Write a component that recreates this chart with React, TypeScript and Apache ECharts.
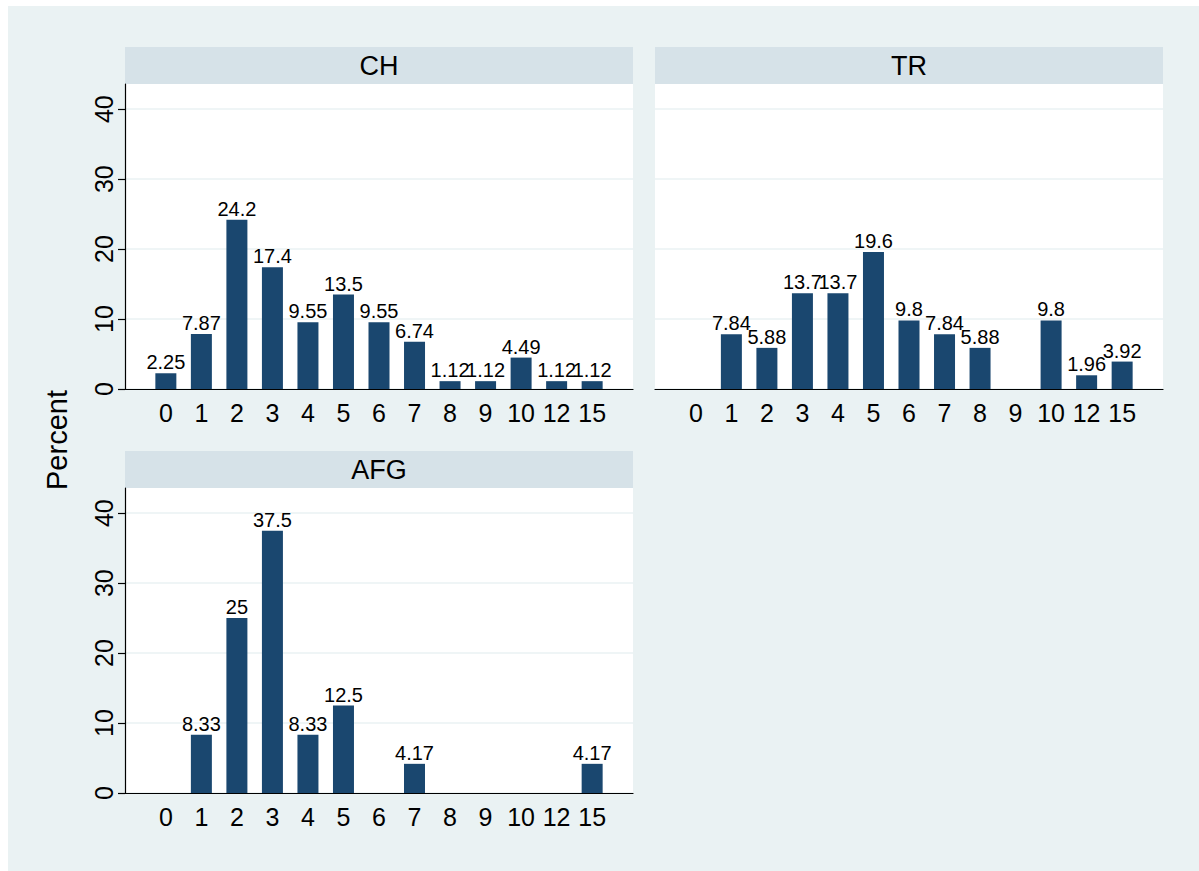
import React, { useEffect, useRef } from "react";
import * as echarts from "echarts";

const categories = ["0", "1", "2", "3", "4", "5", "6", "7", "8", "9", "10", "12", "15"];
const panelNames = ["CH", "TR", "AFG"];
const chValues = [2.25, 7.87, 24.2, 17.4, 9.55, 13.5, 9.55, 6.74, 1.12, 1.12, 4.49, 1.12, 1.12];
const trValues = [null, 7.84, 5.88, 13.7, 13.7, 19.6, 9.8, 7.84, 5.88, null, 9.8, 1.96, 3.92];
const afgValues = [null, 8.33, 25, 37.5, 8.33, 12.5, null, 4.17, null, null, null, null, 4.17];
const yTicks = [0, 10, 20, 30, 40];
const yTitle = "Percent";

const FONT = "'Liberation Sans', Arial, sans-serif";
const BG = "#EAF2F3";
const STRIP = "#D6E2E8";
const BAR = "#1A476F";

const grids = [
  { left: 117, top: 78, width: 508, height: 305 },
  { left: 647, top: 78, width: 508, height: 305 },
  { left: 117, top: 482, width: 508, height: 305 },
];

export default function App() {
  const ref = useRef<HTMLDivElement>(null);
  useEffect(() => {
    if (!ref.current) return;
    const chart = echarts.init(ref.current, null, { renderer: "svg" });
    const allValues = [chValues, trValues, afgValues];
    const idx = categories.map((_, i) => i);

    const option: any = {
      animation: false,
      backgroundColor: BG,
      grid: grids.map((g) => ({
        ...g,
        show: true,
        backgroundColor: "#FFFFFF",
        borderWidth: 0,
        containLabel: false,
      })),
      xAxis: grids.map((_, gi) => ({
        type: "value",
        gridIndex: gi,
        min: -1.15,
        max: 13.15,
        axisLine: { show: true, onZero: false, lineStyle: { color: "#000", width: 1.2 } },
        axisTick: { show: false },
        splitLine: { show: false },
        axisLabel: {
          customValues: idx,
          formatter: (v: number) => categories[Math.round(v)] ?? "",
          color: "#000",
          fontSize: 25,
          fontFamily: FONT,
          margin: 11,
        },
      })),
      yAxis: grids.map((_, gi) => ({
        type: "value",
        gridIndex: gi,
        min: 0,
        max: 43.6,
        axisLine: { show: gi !== 1, onZero: false, lineStyle: { color: "#000", width: 1.2 } },
        axisTick: {
          show: gi !== 1,
          customValues: yTicks,
          length: 7,
          lineStyle: { color: "#000", width: 1.2 },
        },
        axisLabel: {
          show: gi !== 1,
          customValues: yTicks,
          rotate: 90,
          color: "#000",
          fontSize: 25,
          fontFamily: FONT,
          margin: 9,
        },
        splitLine: {
          show: true,
          customValues: yTicks,
          lineStyle: { color: BG, width: 1.5 },
        },
      })),
      series: allValues.map((vals, gi) => ({
        type: "bar",
        xAxisIndex: gi,
        yAxisIndex: gi,
        barWidth: 21,
        itemStyle: { color: BAR },
        label: {
          show: true,
          position: "top",
          distance: 1,
          color: "#000",
          fontSize: 20,
          fontFamily: FONT,
          formatter: (p: any) => (p.value[1] == null ? "" : String(p.value[1])),
        },
        data: vals.map((v, i) => (v == null ? [i, null] : [i, v])),
      })),
      graphic: [
        ...grids.map((g) => ({
          type: "rect",
          shape: { x: g.left, y: g.top - 37, width: g.width, height: 37 },
          style: { fill: STRIP },
          silent: true,
        })),
        ...grids.map((g, gi) => ({
          type: "text",
          x: g.left + g.width / 2,
          y: g.top - 18.5,
          style: {
            text: panelNames[gi],
            fill: "#000",
            font: `27px ${FONT}`,
            textAlign: "center",
            textVerticalAlign: "middle",
          },
          silent: true,
        })),
        {
          type: "text",
          x: 49,
          y: 434,
          rotation: Math.PI / 2,
          style: {
            text: yTitle,
            fill: "#000",
            font: `29px ${FONT}`,
            textAlign: "center",
            textVerticalAlign: "middle",
          },
          silent: true,
        },
      ],
    };
    chart.setOption(option);
    return () => chart.dispose();
  }, []);
  return (
    <div
      ref={ref}
      style={{ position: "absolute", left: 8, top: 6, width: 1191, height: 865 }}
    />
  );
}
